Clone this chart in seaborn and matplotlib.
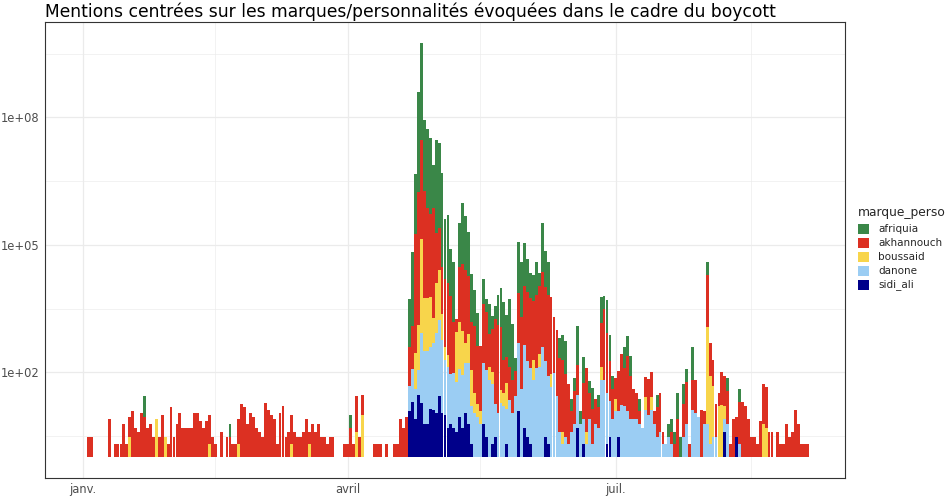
import numpy as np
import pandas as pd
import matplotlib
matplotlib.use("Agg")
import matplotlib.pyplot as plt
import matplotlib.dates as mdates
from matplotlib.patches import Rectangle
import seaborn as sns

# ---------------- data (daily mention counts, from 2018-01-01) ----------------
start_date = "2018-01-01"
title = "Mentions centrées sur les marques/personnalités évoquées dans le cadre du boycott"
legend_title = "marque_perso"
marques = ["afriquia", "akhannouch", "boussaid", "danone", "sidi_ali"]
palette = {"afriquia": "#3A8748", "akhannouch": "#DC3022", "boussaid": "#F8D54B",
           "danone": "#9BCDF3", "sidi_ali": "#00008A"}
y_tick_values = [1e2, 1e5, 1e8]
y_tick_labels = ["1e+02", "1e+05", "1e+08"]
x_tick_dates = ["2018-01-01", "2018-04-01", "2018-07-01"]
x_tick_labels = ["janv.", "avril", "juil."]
x_minor_dates = ["2018-02-15", "2018-05-16", "2018-08-16"]

sidi_ali = [
    0, 0, 0, 0, 0, 0, 0, 0, 0, 0,
    0, 0, 0, 0, 0, 0, 0, 0, 0, 0,
    0, 0, 0, 0, 0, 0, 0, 0, 0, 0,
    0, 0, 0, 0, 0, 0, 0, 0, 0, 0,
    0, 0, 0, 0, 0, 0, 0, 0, 0, 0,
    0, 0, 0, 0, 0, 0, 0, 0, 0, 0,
    0, 0, 0, 0, 0, 0, 0, 0, 0, 0,
    0, 0, 0, 0, 0, 0, 0, 0, 0, 0,
    0, 0, 0, 0, 0, 0, 0, 0, 0, 0,
    0, 0, 0, 0, 0, 0, 0, 0, 0, 0,
    0, 0, 0, 0, 0, 0, 0, 0, 0, 0,
    0, 12, 20, 8, 29, 19, 6, 6, 14, 13,
    11, 27, 11, 10, 5, 6, 5, 4, 9, 5,
    11, 6, 2, 0, 0, 0, 6, 3, 0, 2,
    3, 0, 0, 0, 2, 0, 0, 0, 12, 0,
    5, 3, 2, 0, 0, 0, 0, 3, 2, 0,
    0, 0, 0, 0, 0, 0, 0, 0, 5, 0,
    2, 0, 0, 0, 0, 0, 0, 0, 2, 3,
    0, 0, 3, 0, 0, 0, 0, 0, 0, 0,
    0, 0, 0, 0, 0, 0, 0, 0, 0, 0,
    0, 0, 0, 0, 0, 0, 0, 0, 0, 0,
    0, 0, 0, 0, 0, 0, 0, 0, 4, 0,
    0, 0, 3, 0, 0, 0, 0, 0, 0, 0,
    0, 0, 0, 0, 0, 0, 0, 0, 0, 0,
    0, 0, 0, 0, 0, 0, 0,
]

danone = [
    0, 0, 0, 0, 0, 0, 0, 0, 0, 0,
    0, 0, 0, 0, 0, 0, 0, 0, 0, 0,
    0, 0, 0, 0, 0, 0, 0, 0, 0, 0,
    0, 0, 0, 0, 0, 0, 0, 0, 0, 0,
    0, 0, 0, 0, 0, 0, 0, 0, 0, 0,
    0, 0, 0, 0, 0, 0, 0, 0, 0, 0,
    0, 0, 0, 0, 0, 0, 0, 0, 0, 0,
    0, 0, 0, 0, 0, 0, 0, 0, 0, 0,
    0, 0, 0, 0, 0, 0, 0, 0, 0, 0,
    0, 0, 0, 0, 0, 0, 0, 0, 0, 0,
    0, 0, 0, 0, 0, 0, 0, 0, 0, 0,
    0, 4, 6, 5, 4, 44, 53, 53, 28, 37,
    76, 63, 53, 20, 26, 15, 19, 15, 13, 17,
    15, 27, 8, 11, 9, 6, 28, 37, 66, 26,
    6, 11, 19, 16, 7, 22, 11, 27, 40, 40,
    90, 63, 63, 66, 125, 135, 400, 60, 40, 46,
    95, 27, 4, 2, 3, 2, 4, 6, 6, 6,
    4, 2, 8, 2, 6, 5, 66, 66, 16, 7,
    8, 12, 4, 17, 16, 12, 8, 8, 8, 6,
    5, 13, 10, 13, 6, 3, 4, 2, 2, 3,
    2, 0, 0, 0, 3, 6, 0, 13, 11, 9,
    0, 6, 6, 2, 3, 3, 0, 0, 2, 6,
    0, 0, 0, 2, 0, 0, 0, 0, 0, 0,
    0, 0, 0, 0, 0, 0, 0, 0, 0, 0,
    0, 0, 0, 0, 0, 0, 0,
]

boussaid = [
    0, 0, 0, 0, 0, 0, 0, 0, 0, 0,
    0, 0, 0, 0, 0, 0, 3, 0, 0, 0,
    0, 0, 0, 0, 0, 8, 0, 0, 3, 0,
    0, 0, 0, 0, 0, 0, 0, 0, 0, 0,
    0, 0, 0, 2, 0, 0, 0, 0, 0, 0,
    0, 0, 0, 2, 0, 0, 0, 0, 0, 0,
    0, 0, 0, 0, 0, 0, 0, 0, 0, 0,
    0, 2, 0, 0, 0, 0, 0, 2, 0, 0,
    0, 0, 0, 0, 0, 0, 0, 0, 0, 0,
    0, 0, 0, 4, 0, 10, 0, 0, 0, 0,
    0, 0, 0, 0, 0, 0, 0, 0, 0, 0,
    0, 0, 0, 7, 11, 160, 18, 18, 15, 4,
    15, 15, 4, 2, 2, 0, 0, 15, 13, 11,
    3, 5, 7, 3, 2, 2, 0, 1, 2, 2,
    1, 1, 2, 2, 4, 0, 0, 0, 0, 0,
    0, 1, 0, 3, 0, 2, 0, 0, 0, 2,
    0, 0, 0, 2, 0, 0, 0, 0, 0, 0,
    0, 2, 0, 0, 0, 0, 2, 0, 0, 0,
    0, 2, 0, 0, 0, 0, 0, 0, 0, 0,
    0, 2, 0, 2, 0, 0, 0, 0, 0, 0,
    0, 0, 0, 0, 0, 0, 0, 0, 0, 0,
    0, 0, 190, 40, 16, 1, 16, 17, 2, 0,
    0, 0, 0, 0, 0, 0, 0, 0, 0, 0,
    0, 6, 5, 0, 0, 0, 0, 0, 0, 0,
    0, 0, 0, 0, 0, 0, 0,
]

akhannouch = [
    1, 0, 3, 3, 0, 0, 1, 1, 1, 8,
    0, 2, 2, 2, 6, 2, 3, 12, 5, 4,
    11, 9, 5, 6, 3, 0, 3, 10, 1, 2,
    15, 3, 6, 11, 5, 5, 5, 5, 11, 11,
    7, 5, 7, 5, 3, 2, 1, 4, 0, 3,
    3, 2, 2, 4, 18, 15, 6, 11, 9, 5,
    4, 3, 19, 13, 10, 8, 2, 11, 16, 3,
    4, 5, 4, 3, 3, 4, 8, 2, 6, 4,
    6, 3, 3, 2, 3, 3, 1, 1, 0, 2,
    2, 5, 2, 7, 3, 3, 1, 1, 0, 2,
    2, 2, 0, 2, 1, 0, 2, 2, 8, 5,
    9, 8, 10, 650, 1380, 225, 320, 130, 90, 390,
    15, 10, 13, 40, 49, 69, 16, 2, 20, 38,
    52, 23, 14, 38, 23, 35, 24, 24, 6, 10,
    100, 120, 31, 6, 4, 6, 6, 4, 15, 50,
    24, 40, 44, 24, 53, 40, 58, 58, 84, 63,
    21, 37, 53, 48, 31, 26, 3, 6, 5, 1,
    7, 31, 4, 7, 4, 3, 11, 48, 26, 9,
    5, 3, 9, 16, 8, 20, 10, 5, 4, 2,
    1, 3, 7, 4, 2, 5, 8, 2, 0, 1,
    2, 2, 8, 0, 6, 10, 2, 5, 6, 1,
    13, 2, 17, 6, 4, 6, 2, 6, 5, 6,
    2, 8, 3, 10, 20, 16, 8, 3, 3, 2,
    7, 9, 9, 4, 4, 1, 4, 2, 2, 6,
    3, 4, 13, 6, 2, 2, 2,
]

afriquia = [
    0, 0, 1, 0, 0, 0, 0, 0, 0, 0,
    0, 0, 0, 0, 0, 0, 0, 0, 0, 0,
    1, 3, 0, 0, 0, 0, 0, 0, 1, 0,
    0, 0, 0, 0, 0, 0, 0, 0, 1, 0,
    0, 0, 0, 0, 1, 0, 0, 0, 0, 0,
    2, 1, 0, 0, 1, 0, 1, 0, 0, 0,
    0, 1, 0, 0, 1, 0, 0, 0, 0, 0,
    0, 1, 0, 0, 0, 0, 0, 0, 0, 0,
    1, 0, 0, 0, 0, 0, 0, 0, 0, 0,
    0, 2, 1, 0, 0, 1, 0, 0, 0, 0,
    0, 1, 0, 0, 0, 0, 0, 0, 0, 0,
    0, 14, 58, 25, 225, 190, 48, 70, 63, 10,
    160, 100, 160, 25, 40, 13, 26, 1, 11, 27,
    19, 11, 13, 7, 6, 1, 4, 2, 5, 2,
    2, 5, 8, 24, 10, 40, 21, 2, 16, 20,
    10, 6, 4, 4, 6, 2, 14, 7, 6, 1,
    0, 0, 3, 4, 6, 1, 2, 2, 8, 2,
    4, 0, 2, 3, 0, 2, 4, 2, 6, 4,
    2, 0, 1, 1, 3, 3, 3, 0, 0, 2,
    0, 0, 0, 0, 0, 2, 0, 0, 0, 2,
    2, 2, 4, 3, 3, 2, 0, 6, 0, 0,
    0, 0, 2, 0, 0, 0, 0, 0, 1, 2,
    1, 0, 0, 2, 1, 0, 0, 0, 0, 1,
    0, 0, 0, 0, 0, 0, 0, 0, 0, 0,
    0, 0, 0, 0, 0, 0, 0,
]

series = {"afriquia": afriquia, "akhannouch": akhannouch, "boussaid": boussaid,
          "danone": danone, "sidi_ali": sidi_ali}

# ---------------- tidy table (log10 scale is applied before stacking, as in ggplot) ----
dates = pd.date_range(start_date, periods=len(akhannouch), freq="D")
xnum = mdates.date2num(dates.to_pydatetime())
rows = []
for m, vals in series.items():
    for x, v in zip(xnum, vals):
        rows.append({"date": x, "marque_perso": m, "n": v,
                     "logn": float(np.log10(v)) if v > 0 else 0.0})
df = pd.DataFrame(rows)

# ---------------- figure ----------------
sns.set_theme(style="white")
plt.rcParams["font.family"] = ["DejaVu Sans"]

W, H = 952, 500
fig = plt.figure(figsize=(W / 100, H / 100), dpi=100)
pl, pr, pt, pb = 45, 845, 22, 478
ax = fig.add_axes([pl / W, 1 - pb / H, (pr - pl) / W, (pb - pt) / H])

sns.histplot(data=df, x="date", weights="logn", hue="marque_perso",
             hue_order=marques, palette=palette, multiple="stack",
             discrete=True, shrink=0.97, alpha=1, linewidth=0,
             legend=False, ax=ax)

# limits like ggplot (5 % expansion)
tot = df.groupby("date")["logn"].sum()
ymax = tot.max()
ax.set_ylim(-0.05 * ymax, 1.05 * ymax)
lo, hi = xnum[0] - 0.45, xnum[-1] + 0.45
span = hi - lo
ax.set_xlim(lo - 0.05 * span, hi + 0.05 * span)

ax.set_yticks(np.log10(y_tick_values))
ax.set_yticklabels(y_tick_labels)
ax.set_yticks([0.5, 3.5, 6.5, 9.5], minor=True)
ax.set_xticks(mdates.date2num(pd.to_datetime(x_tick_dates).to_pydatetime()))
ax.set_xticklabels(x_tick_labels)
ax.set_xticks(mdates.date2num(pd.to_datetime(x_minor_dates).to_pydatetime()), minor=True)

ax.set_axisbelow(True)
ax.grid(which="major", color="#EBEBEB", linewidth=0.9)
ax.grid(which="minor", color="#EBEBEB", linewidth=0.45)
ax.tick_params(which="major", length=2.5, width=0.6, color="#333333",
               labelsize=8.3, labelcolor="#4D4D4D", pad=1)
ax.tick_params(axis="y", which="major", pad=1.5)
ax.tick_params(which="minor", length=0)
for s in ax.spines.values():
    s.set_visible(True)
    s.set_color("#333333")
    s.set_linewidth(0.8)
ax.set_xlabel("")
ax.set_ylabel("")

fig.text(pl / W, 1 - 12 / H, title, ha="left", va="center", fontsize=12.3, color="black")

# legend (ggplot-like guide, drawn in figure pixel units)
lx, ty, key, step = 858, 213, 10.5, 14
fig.text(lx / W, 1 - ty / H, legend_title, ha="left", va="center", fontsize=8.8)
for i, m in enumerate(marques):
    cy = 229 + i * step
    fig.add_artist(Rectangle((lx / W, 1 - (cy + key / 2) / H), key / W, key / H,
                             transform=fig.transFigure, facecolor=palette[m],
                             edgecolor="none"))
    fig.text(878 / W, 1 - cy / H, m, ha="left", va="center", fontsize=7.5)

fig.savefig("out.png", dpi=100)
